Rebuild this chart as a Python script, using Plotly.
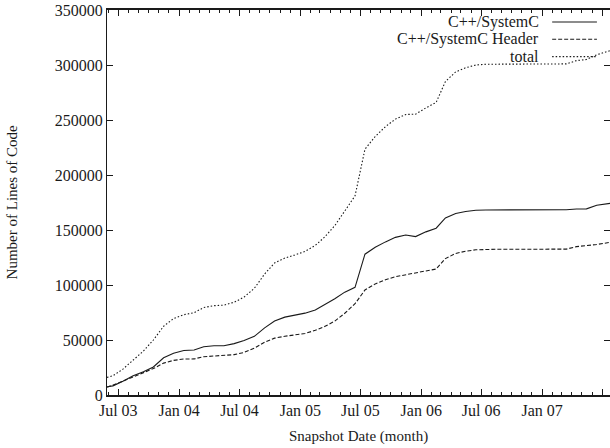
import plotly.graph_objects as go

dates = ["2003-05-28", "2003-06-15", "2003-07-15", "2003-08-15", "2003-09-15", "2003-10-15",
         "2003-11-15", "2003-12-15", "2004-01-15", "2004-02-15", "2004-03-15", "2004-04-15",
         "2004-05-15", "2004-06-15", "2004-07-15", "2004-08-15", "2004-09-15", "2004-10-15",
         "2004-11-15", "2004-12-15", "2005-01-15", "2005-02-15", "2005-03-15", "2005-04-15",
         "2005-05-15", "2005-06-15", "2005-07-15", "2005-08-15", "2005-09-15", "2005-10-15",
         "2005-11-15", "2005-12-15", "2006-01-15", "2006-02-15", "2006-03-15", "2006-04-15",
         "2006-05-15", "2006-06-15", "2006-07-15", "2006-08-15", "2006-09-15", "2006-10-15",
         "2006-11-15", "2006-12-15", "2007-01-15", "2007-02-15", "2007-03-15", "2007-04-15",
         "2007-05-15", "2007-06-15", "2007-07-25"]

cpp = [7500, 8300, 12500, 17400, 21200, 25500, 33800, 38000, 40400, 40900, 43900, 44800,
       44800, 46700, 49600, 53300, 61000, 67300, 70800, 72900, 74400, 77300, 82000, 87500,
       93500, 97900, 128000, 134300, 139200, 143300, 145400, 144000, 148300, 151600, 161000, 165000,
       166800, 168000, 168200, 168200, 168200, 168200, 168200, 168200, 168200, 168200, 168400, 169100,
       169200, 172500, 174200]

header = [7000, 8800, 12500, 16500, 20600, 24000, 29000, 31500, 32700, 32800, 34800, 35500,
          35500, 36700, 38700, 42500, 48000, 51700, 53400, 54300, 55900, 58800, 62200, 67200,
          74300, 83000, 95500, 101000, 104800, 107500, 109500, 111300, 112800, 114500, 124000, 128700,
          130700, 132000, 132500, 132500, 132500, 132500, 132500, 132500, 132500, 132500, 132600, 134900,
          135600, 136800, 138800]

total = [16000, 17500, 23500, 32000, 40000, 50000, 62500, 69500, 73000, 74800, 79500, 81200,
         81700, 84300, 89000, 97000, 110000, 120000, 124500, 127300, 130500, 136000, 143500, 154000,
         167000, 181000, 223500, 235000, 244000, 250800, 255000, 255300, 261000, 266000, 285000, 293700,
         297500, 300000, 300700, 300700, 300700, 300700, 300700, 300700, 300700, 300700, 301000, 304000,
         305000, 309300, 313000]

series_names = ["C++/SystemC", "C++/SystemC Header", "total"]
y_ticks = [0, 50000, 100000, 150000, 200000, 250000, 300000, 350000]

FONT = "Liberation Serif, Times New Roman, serif"
INK = "#1a1a1a"
dashes = ["solid", "4px,2px", "1.5px,2px"]

fig = go.Figure()
for name, ys, d in zip(series_names, [cpp, header, total], dashes):
    fig.add_trace(go.Scatter(x=dates, y=ys, mode="lines", name=name,
                             line=dict(color=INK, width=1.1, dash=d), showlegend=False))

# gnuplot-style key: text right-aligned, sample to the right
key_rows = [0.969, 0.924, 0.879]
for name, d, yy in zip(series_names, dashes, key_rows):
    fig.add_annotation(x=0.863, y=yy, xref="paper", yref="paper", text=name, showarrow=False,
                       xanchor="right", yanchor="middle", font=dict(family=FONT, size=16, color=INK))
    fig.add_shape(type="line", xref="paper", yref="paper", x0=0.885, x1=0.974, y0=yy, y1=yy,
                  line=dict(color=INK, width=1.1, dash=d))

fig.add_annotation(x=-0.189, y=0.5, xref="paper", yref="paper", text="Number of Lines of Code",
                   textangle=-90, showarrow=False, xanchor="center", yanchor="middle",
                   font=dict(family=FONT, size=15, color=INK))
fig.add_annotation(x=0.5, y=-0.109, xref="paper", yref="paper", text="Snapshot Date (month)",
                   showarrow=False, xanchor="center", yanchor="middle",
                   font=dict(family=FONT, size=15, color=INK))

fig.update_layout(
    width=610, height=448,
    margin=dict(l=107, r=0, t=10, b=53),
    paper_bgcolor="white", plot_bgcolor="white",
    font=dict(family=FONT, size=16, color=INK),
    xaxis=dict(type="date", range=["2003-05-28", "2007-07-25"],
               tick0="2003-07-01", dtick="M6", tickformat="%b %y",
               ticks="inside", ticklen=6, tickcolor=INK, tickwidth=1,
               minor=dict(dtick="M1", ticks="inside", ticklen=3, tickcolor=INK, tickwidth=1),
               showline=True, linecolor=INK, linewidth=1.5, mirror="ticks",
               showgrid=False, zeroline=False),
    yaxis=dict(range=[0, 350000], tickvals=y_ticks, tickformat="d",
               ticks="inside", ticklen=6, tickcolor=INK, tickwidth=1,
               showline=True, linecolor=INK, linewidth=1.2, mirror="ticks",
               showgrid=False, zeroline=False),
)

fig.write_html("out.html")
